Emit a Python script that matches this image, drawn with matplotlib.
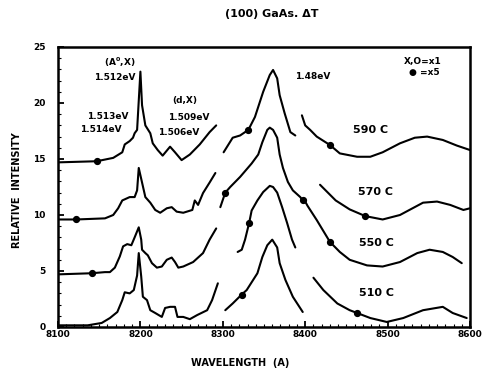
import matplotlib
matplotlib.use("Agg")
import matplotlib.pyplot as plt
from matplotlib.ticker import MultipleLocator

# ---------------- data ----------------
xticks = [8100, 8200, 8300, 8400, 8500, 8600]
yticks = [0, 5, 10, 15, 20, 25]
temps = ["590 C", "570 C", "550 C", "510 C"]

# spectrum 1 (590 C)
s1a_x = [8100, 8147, 8167, 8178, 8181, 8187, 8191, 8193, 8196, 8197, 8200, 8202, 8206, 8212, 8215, 8221, 8227, 8236, 8242, 8250, 8260, 8272, 8284, 8292]
s1a_y = [14.7, 14.8, 15.1, 15.6, 16.3, 16.6, 16.9, 17.3, 17.6, 18.9, 22.8, 19.8, 18.0, 17.3, 16.4, 15.8, 15.3, 16.1, 15.6, 14.9, 15.4, 16.3, 17.4, 18.0]
s1b_x = [8301, 8312, 8321, 8331, 8339, 8349, 8357, 8361, 8366, 8369, 8375, 8382, 8388]
s1b_y = [15.6, 16.9, 17.1, 17.6, 18.75, 21.0, 22.5, 22.95, 22.2, 20.7, 19.1, 17.4, 17.1]
s1c_x = [8396, 8400, 8406, 8414, 8430, 8442, 8463, 8479, 8494, 8515, 8533, 8548, 8567, 8584, 8600]
s1c_y = [18.9, 18.0, 17.6, 17.0, 16.25, 15.5, 15.2, 15.2, 15.6, 16.4, 16.9, 17.0, 16.7, 16.2, 15.8]
s1_dots_x = [8147, 8331, 8430]
s1_dots_y = [14.8, 17.6, 16.25]

# spectrum 2 (570 C)
s2a_x = [8100, 8122, 8157, 8167, 8173, 8178, 8187, 8193, 8196, 8198, 8202, 8206, 8212, 8218, 8224, 8232, 8238, 8244, 8252, 8263, 8266, 8270, 8276, 8284, 8291]
s2a_y = [9.6, 9.6, 9.7, 10.0, 10.6, 11.3, 11.6, 11.6, 12.2, 14.2, 12.9, 11.6, 11.1, 10.45, 10.2, 10.6, 10.7, 10.3, 10.2, 10.45, 11.3, 10.9, 11.96, 12.9, 13.75]
s2b_x = [8297, 8303, 8309, 8321, 8335, 8343, 8348, 8354, 8357, 8361, 8366, 8369, 8373, 8379, 8385, 8394, 8397]
s2b_y = [10.7, 12.0, 12.5, 13.4, 14.6, 15.4, 16.5, 17.6, 17.8, 17.6, 16.9, 15.4, 14.2, 12.95, 12.2, 11.6, 11.3]
s2c_x = [8418, 8437, 8454, 8473, 8494, 8515, 8543, 8560, 8576, 8592, 8600]
s2c_y = [12.7, 11.3, 10.5, 9.9, 9.6, 10.0, 11.1, 11.2, 10.9, 10.45, 10.6]
s2_dots_x = [8122, 8303, 8397, 8473]
s2_dots_y = [9.6, 12.0, 11.3, 9.9]

# spectrum 3 (550 C)
s3a_x = [8100, 8141, 8157, 8163, 8169, 8175, 8179, 8184, 8189, 8193, 8198, 8201, 8202, 8206, 8209, 8214, 8220, 8226, 8232, 8238, 8242, 8246, 8252, 8264, 8276, 8284, 8292]
s3a_y = [4.7, 4.8, 4.9, 4.9, 5.3, 6.3, 7.2, 7.4, 7.3, 8.0, 8.9, 7.8, 6.9, 6.6, 6.4, 5.7, 5.3, 5.4, 6.0, 6.2, 5.8, 5.3, 5.4, 5.8, 6.6, 7.8, 8.8]
s3b_x = [8318, 8323, 8327, 8332, 8335, 8342, 8349, 8357, 8361, 8366, 8372, 8378, 8384, 8388]
s3b_y = [6.7, 6.9, 7.8, 9.3, 10.4, 11.3, 12.05, 12.6, 12.5, 12.0, 10.7, 9.3, 7.8, 7.1]
s3c_x = [8400, 8403, 8414, 8430, 8442, 8454, 8475, 8494, 8515, 8536, 8551, 8567, 8579, 8590]
s3c_y = [11.2, 10.8, 9.55, 7.6, 6.7, 6.0, 5.5, 5.4, 5.8, 6.6, 6.9, 6.7, 6.25, 5.7]
s3_dots_x = [8141, 8332, 8430]
s3_dots_y = [4.8, 9.3, 7.6]

# spectrum 4 (510 C)
s4a_x = [8100, 8136, 8153, 8163, 8172, 8178, 8181, 8187, 8192, 8196, 8198, 8201, 8203, 8208, 8212, 8218, 8226, 8230, 8236, 8242, 8245, 8252, 8260, 8269, 8281, 8287, 8294]
s4a_y = [0.15, 0.15, 0.36, 0.8, 1.34, 2.4, 3.1, 3.0, 3.3, 4.6, 6.6, 4.5, 2.7, 2.4, 1.5, 1.25, 0.9, 1.7, 1.8, 1.8, 0.9, 0.9, 0.7, 1.07, 1.5, 2.4, 3.9]
s4b_x = [8303, 8312, 8323, 8329, 8342, 8348, 8354, 8360, 8366, 8369, 8376, 8385, 8397]
s4b_y = [1.5, 2.1, 2.9, 3.3, 4.8, 6.25, 7.3, 7.8, 7.1, 5.7, 4.2, 2.7, 1.34]
s4c_x = [8410, 8422, 8439, 8454, 8463, 8479, 8499, 8519, 8543, 8567, 8579, 8596]
s4c_y = [4.4, 3.3, 2.1, 1.5, 1.25, 0.8, 0.45, 0.8, 1.5, 1.8, 1.25, 0.8]
s4_dots_x = [8323, 8463]
s4_dots_y = [2.9, 1.25]

temp_x = [8479, 8485, 8486, 8486]
temp_y = [17.6, 12.05, 7.5, 3.0]

# ---------------- figure ----------------
W, H = 483, 374
fig = plt.figure(figsize=(W / 100, H / 100), dpi=100)
ax = fig.add_axes([58 / W, 1 - 327 / H, (470 - 58) / W, (327 - 47) / H])

segments = [(s1a_x, s1a_y), (s1b_x, s1b_y), (s1c_x, s1c_y),
            (s2a_x, s2a_y), (s2b_x, s2b_y), (s2c_x, s2c_y),
            (s3a_x, s3a_y), (s3b_x, s3b_y), (s3c_x, s3c_y),
            (s4a_x, s4a_y), (s4b_x, s4b_y), (s4c_x, s4c_y)]
for sx, sy in segments:
    ax.plot(sx, sy, color="black", lw=1.5, solid_joinstyle="round", solid_capstyle="round")

for dx, dy in [(s1_dots_x, s1_dots_y), (s2_dots_x, s2_dots_y),
               (s3_dots_x, s3_dots_y), (s4_dots_x, s4_dots_y)]:
    ax.plot(dx, dy, "o", color="black", ms=4.2)

ax.set_xlim(8100, 8600)
ax.set_ylim(0, 25)
ax.set_xticks(xticks)
ax.set_xticklabels([str(v) for v in xticks])
ax.set_yticks(yticks)
ax.set_yticklabels([str(v) for v in yticks])
ax.xaxis.set_minor_locator(MultipleLocator(10))
ax.yaxis.set_minor_locator(MultipleLocator(1))
ax.tick_params(which="major", direction="in", length=4, width=1.3, labelsize=6.5, pad=2)
ax.tick_params(axis="y", which="major", pad=9)
ax.tick_params(which="minor", direction="in", length=2, width=0.8)
for lab in ax.get_xticklabels() + ax.get_yticklabels():
    lab.set_fontweight("bold")
for sp in ax.spines.values():
    sp.set_linewidth(1.8)

tfont = dict(fontweight="bold", color="black")
for t, x, y in zip(temps, temp_x, temp_y):
    ax.text(x, y, t, fontsize=8, ha="center", va="center", **tfont)

ax.text(8175, 23.6, "(A$^\\mathbf{0}$,X)", fontsize=6.5, ha="center", va="center", **tfont)
ax.text(8169, 22.3, "1.512eV", fontsize=6.5, ha="center", va="center", **tfont)
ax.text(8161, 18.8, "1.513eV", fontsize=6.5, ha="center", va="center", **tfont)
ax.text(8152, 17.6, "1.514eV", fontsize=6.5, ha="center", va="center", **tfont)
ax.text(8254, 20.2, "(d,X)", fontsize=6.5, ha="center", va="center", **tfont)
ax.text(8259, 18.75, "1.509eV", fontsize=6.5, ha="center", va="center", **tfont)
ax.text(8247, 17.4, "1.506eV", fontsize=6.5, ha="center", va="center", **tfont)
ax.text(8409, 22.4, "1.48eV", fontsize=6.5, ha="center", va="center", **tfont)
ax.text(8542, 23.7, "X,O=x1", fontsize=6.5, ha="center", va="center", **tfont)
ax.text(8544, 22.7, "\u25cf =x5", fontsize=6.5, ha="center", va="center", **tfont)

fig.text(272 / W, 1 - 14 / H, "(100) GaAs. \u0394T", fontsize=8, ha="center", va="center", **tfont)
fig.text(240 / W, 1 - 363 / H, "WAVELENGTH  (A)", fontsize=7, ha="center", va="center", **tfont)
fig.text(17 / W, 1 - 190 / H, "RELATIVE  INTENSITY", fontsize=7, ha="center", va="center", rotation=90, **tfont)

fig.savefig("out.png", dpi=100)
